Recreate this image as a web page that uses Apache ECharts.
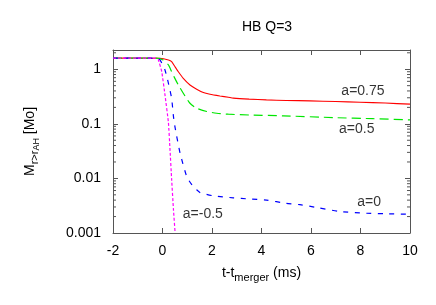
<!DOCTYPE html>
<html>
<head>
<meta charset="utf-8">
<script src="https://cdn.jsdelivr.net/npm/echarts@6/dist/echarts.min.js"></script>
<style>html,body{margin:0;padding:0;background:#fff;}#c{width:436px;height:305px;}</style>
</head>
<body>
<div id="c"></div>
<script>
// ---- data ----
const redX = [-2, -1, -0.1, 0.24, 0.37, 0.5, 0.64, 0.84, 1.11, 1.38, 1.65, 1.92, 2.32, 2.66, 2.86, 3.5, 4.2, 5.0, 5.96, 7.0, 7.98, 9.0, 10];
const redY = [1.6, 1.6, 1.59, 1.48, 1.38, 1.12, 0.90, 0.68, 0.515, 0.43, 0.373, 0.348, 0.324, 0.307, 0.296, 0.283, 0.274, 0.268, 0.263, 0.256, 0.249, 0.240, 0.229];

const greenX = [-2, -1, -0.24, 0.03, 0.24, 0.37, 0.5, 0.64, 0.84, 1.11, 1.38, 1.79, 2.19, 2.66, 3.5, 4.88, 6.9, 8.5, 10];
const greenY = [1.6, 1.6, 1.6, 1.48, 1.2, 0.90, 0.68, 0.515, 0.363, 0.238, 0.193, 0.168, 0.156, 0.15, 0.145, 0.14, 0.13, 0.124, 0.118];

const blueX = [-2, -1, -0.25, -0.1, 0.1, 0.24, 0.37, 0.44, 0.5, 0.57, 0.71, 0.98, 1.2, 1.38, 1.52, 2.05, 2.86, 3.5, 4.2, 5.0, 5.55, 6.3, 7.17, 8.25, 9.0, 10];
const blueY = [1.6, 1.6, 1.6, 1.48, 0.97, 0.55, 0.29, 0.14, 0.09, 0.06, 0.029, 0.0108, 0.0075, 0.0062, 0.0055, 0.0048, 0.0044, 0.0042, 0.0040, 0.0035, 0.0033, 0.0029, 0.00247, 0.0023, 0.00225, 0.0022];

const magX = [-2, -1, -0.3, -0.17, -0.03, 0.1, 0.24, 0.3, 0.37, 0.44, 0.51];
const magY = [1.6, 1.6, 1.6, 1.5, 0.9, 0.34, 0.105, 0.036, 0.0095, 0.0028, 0.001];

const curveLabels = ['a=0.75', 'a=0.5', 'a=0', 'a=-0.5'];
const labelX = [8.10, 7.85, 8.35, 1.63];
const labelY = [0.402, 0.08, 0.00363, 0.00222];

const xTicks = [-2, 0, 2, 4, 6, 8, 10];
const yTickLabels = ['0.001', '0.01', '0.1', '1'];
const yMinorTicks = [0.002,0.003,0.004,0.005,0.006,0.007,0.008,0.009,
                     0.02,0.03,0.04,0.05,0.06,0.07,0.08,0.09,
                     0.2,0.3,0.4,0.5,0.6,0.7,0.8,0.9,2];

const pairs = (xs, ys) => xs.map((x, i) => [x, ys[i]]);

const FONT = 'Liberation Sans, Arial, sans-serif';
const AX = '#555';
const chart = echarts.init(document.getElementById('c'), null, {renderer: 'canvas'});

const xCommon = {
  type: 'value', min: xTicks[0], max: xTicks[xTicks.length - 1], interval: 2,
  splitLine: {show: false},
  axisLine: {show: true, onZero: false, lineStyle: {color: AX, width: 1}},
  axisTick: {show: true, inside: true, length: 5, lineStyle: {color: AX}}
};
const yCommon = {
  type: 'log', logBase: 10, min: 0.001, max: 2.25,
  splitLine: {show: false},
  axisLine: {show: true, onZero: false, lineStyle: {color: AX, width: 1}},
  axisTick: {show: true, inside: true, length: 5, lineStyle: {color: AX}}
};

chart.setOption({
  animation: false,
  backgroundColor: '#fff',
  title: {
    text: 'HB Q=3', left: 262, top: 15, textAlign: 'center',
    textStyle: {fontFamily: FONT, fontSize: 14, fontWeight: 'normal', color: '#000'}
  },
  grid: {left: 113, right: 26, top: 50, bottom: 72, containLabel: false},
  xAxis: [
    Object.assign({}, xCommon, {
      position: 'bottom',
      axisLabel: {fontFamily: FONT, fontSize: 14, color: '#000', margin: 11},
      name: '{m|t-t}{s|merger}{m| (ms)}',
      nameLocation: 'middle', nameGap: 33,
      nameTextStyle: {
        rich: {
          m: {fontFamily: FONT, fontSize: 14, color: '#000', lineHeight: 14, verticalAlign: 'top'},
          s: {fontFamily: FONT, fontSize: 11, color: '#000', lineHeight: 11, verticalAlign: 'top', padding: [6, 0, 0, 0]}
        }
      }
    }),
    Object.assign({}, xCommon, {position: 'top', axisLabel: {show: false}})
  ],
  yAxis: [
    Object.assign({}, yCommon, {
      position: 'left',
      axisLabel: {
        fontFamily: FONT, fontSize: 14, color: '#000', margin: 12, showMaxLabel: false,
        formatter: function (v) {
          const e = Math.round(Math.log10(v));
          if (Math.abs(Math.log10(v) - e) > 1e-6) return '';
          return yTickLabels[e + 3] || '';
        }
      },
      name: '{m|M}{s|r>r}{ss|AH}{m| [Mo]}',
      nameLocation: 'middle', nameGap: 76, nameRotate: 90,
      nameTextStyle: {
        rich: {
          m: {fontFamily: FONT, fontSize: 14, color: '#000', lineHeight: 14, verticalAlign: 'top'},
          s: {fontFamily: FONT, fontSize: 11, color: '#000', lineHeight: 11, verticalAlign: 'top', padding: [6, 0, 0, 0]},
          ss: {fontFamily: FONT, fontSize: 9, color: '#000', lineHeight: 9, verticalAlign: 'top', padding: [9, 0, 0, 0]}
        }
      }
    }),
    Object.assign({}, yCommon, {position: 'right', axisLabel: {show: false}})
  ],
  series: [
    {
      type: 'line', name: 'a=0.75', data: pairs(redX, redY), showSymbol: false, symbol: 'none',
      lineStyle: {color: '#ff0000', width: 1.1, type: 'solid'}, smooth: 0.2, z: 2
    },
    {
      type: 'line', name: 'a=0.5', data: pairs(greenX, greenY), showSymbol: false, symbol: 'none',
      lineStyle: {color: '#00e600', width: 1.2, type: [9, 5]}, smooth: 0.2, z: 3
    },
    {
      type: 'line', name: 'a=0', data: pairs(blueX, blueY), showSymbol: false, symbol: 'none',
      lineStyle: {color: '#0000ff', width: 1.2, type: [5, 6.5]}, smooth: 0.2, z: 4
    },
    {
      type: 'line', name: 'a=-0.5', data: pairs(magX, magY), showSymbol: false, symbol: 'none',
      lineStyle: {color: '#ff00ff', width: 1.2, type: [3, 2]}, smooth: 0.1, z: 5
    },
    {
      type: 'scatter', symbolSize: 0, silent: true,
      data: curveLabels.map((t, i) => ({name: t, value: [labelX[i], labelY[i]]})),
      label: {
        show: true, position: 'inside', formatter: '{b}',
        fontFamily: FONT, fontSize: 14, color: '#000'
      }, z: 6
    },
    {
      type: 'custom', silent: true, z: 7,
      data: yMinorTicks.map(v => [xTicks[0], v]),
      renderItem: function (params, api) {
        const v = api.value(1);
        const pL = api.coord([xTicks[0], v]);
        const pR = api.coord([xTicks[xTicks.length - 1], v]);
        return {
          type: 'group',
          children: [
            {type: 'line', shape: {x1: pL[0], y1: pL[1], x2: pL[0] + 3, y2: pL[1]}, style: {stroke: AX, lineWidth: 1}},
            {type: 'line', shape: {x1: pR[0], y1: pR[1], x2: pR[0] - 3, y2: pR[1]}, style: {stroke: AX, lineWidth: 1}}
          ]
        };
      }
    }
  ]
});
</script>
</body>
</html>
